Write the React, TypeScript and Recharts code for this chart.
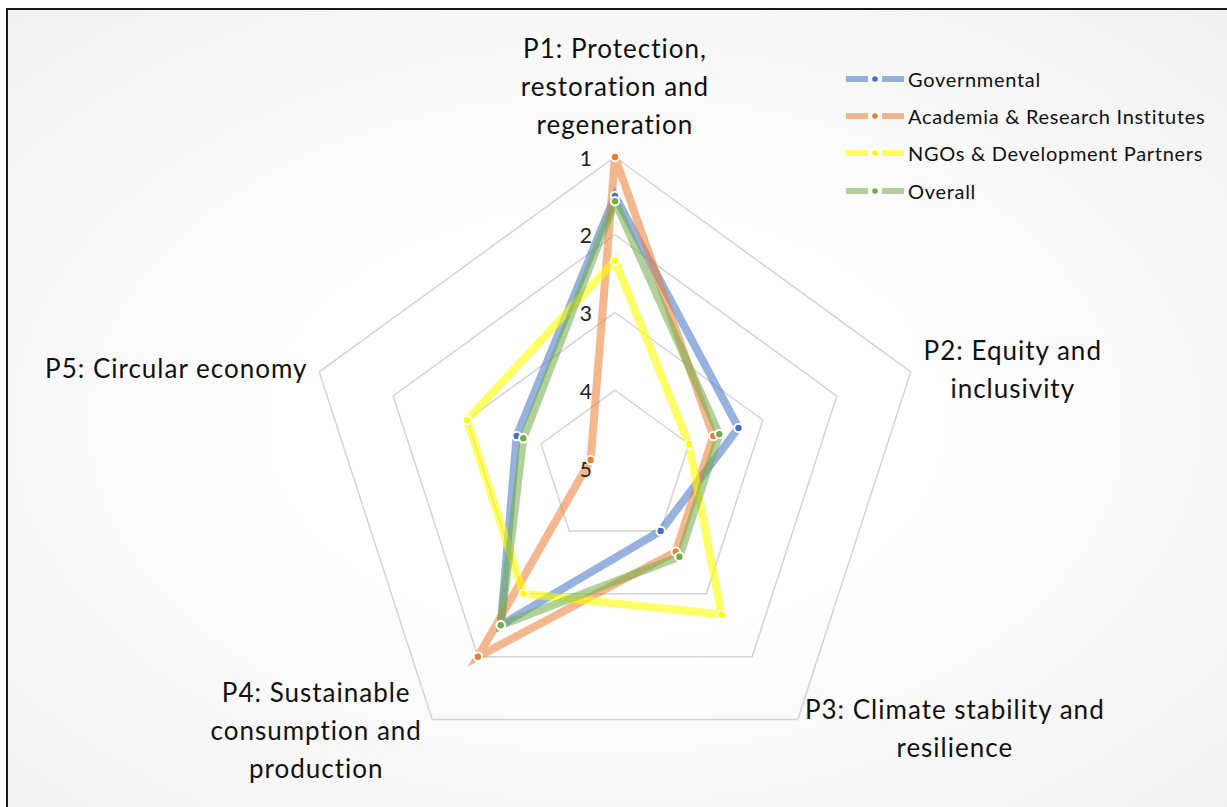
import React from 'react';
import { RadarChart, Radar, PolarGrid, PolarAngleAxis, PolarRadiusAxis, Legend } from 'recharts';

// ranks per pillar (1 = highest priority, drawn on the outer ring)
const categories = ['P1', 'P2', 'P3', 'P4', 'P5'];
const categoryLines = [
  ['P1: Protection,', 'restoration and', 'regeneration'],
  ['P2: Equity and', 'inclusivity'],
  ['P3: Climate stability and', 'resilience'],
  ['P4: Sustainable', 'consumption and', 'production'],
  ['P5: Circular economy'],
];
const governmental = [1.5, 3.33, 4.0, 2.5, 3.67];
const academia = [1.0, 3.67, 3.67, 2.0, 4.67];
const ngos = [2.33, 4.0, 2.67, 3.0, 3.0];
const overall = [1.57, 3.59, 3.59, 2.5, 3.76];
const rankTicks = [1, 2, 3, 4, 5];

const series = [
  { key: 'gov', name: 'Governmental', color: '#4472C4', opacity: 0.55, values: governmental },
  { key: 'acad', name: 'Academia & Research Institutes', color: '#ED7D31', opacity: 0.55, values: academia },
  { key: 'ngo', name: 'NGOs & Development Partners', color: '#FFFF00', opacity: 0.6, values: ngos },
  { key: 'all', name: 'Overall', color: '#70AD47', opacity: 0.55, values: overall },
];

const data = categories.map((c, i) => {
  const row: Record<string, string | number> = { cat: c };
  series.forEach(s => { row[s.key] = s.values[i]; });
  return row;
});

const W = 1227;
const H = 807;
const CX = 615;
const CY = 468;
const R = 311;
const FONT = 'Lato, "Open Sans", sans-serif';
const LINE_H = 38;
// where each label block sits relative to its outer vertex
const labelShift = [[0, -71], [102, -3], [157, 8], [-116, 10], [-143, -4]];

const AngleTick = (props: any) => {
  const { payload } = props;
  const i = categories.indexOf(payload.value);
  const a = (payload.coordinate * Math.PI) / 180;
  const vx = CX + R * Math.cos(-a);
  const vy = CY + R * Math.sin(-a);
  const lines = categoryLines[i];
  const mx = vx + labelShift[i][0];
  const my = vy + labelShift[i][1];
  const top = my - ((lines.length - 1) * LINE_H) / 2;
  return (
    <g>
      {lines.map((t, k) => (
        <text key={k} x={mx} y={top + k * LINE_H} textAnchor="middle" dominantBaseline="central"
          fontFamily={FONT} fontSize={26} letterSpacing={1} fill="#111">{t}</text>
      ))}
    </g>
  );
};

const RadiusTick = (props: any) => (
  <text x={props.x - 23} y={props.y} textAnchor="end" dominantBaseline="central"
    fontFamily={FONT} fontSize={21} fill="#222">{props.payload.value}</text>
);

const makeDot = (color: string) => (p: any) => (
  <circle key={`${color}-${p.index}`} cx={p.cx} cy={p.cy} r={4.2} fill={color} stroke="#fff" strokeWidth={2} />
);

const LegendBox = () => (
  <div style={{ fontFamily: FONT, fontSize: 20, letterSpacing: 0.7, color: '#111' }}>
    {series.map(s => (
      <div key={s.key} style={{ height: 37.3, display: 'flex', alignItems: 'center' }}>
        <svg width={60} height={14} style={{ marginRight: 2 }}>
          <line x1={0} y1={7} x2={22} y2={7} stroke={s.color} strokeOpacity={s.opacity} strokeWidth={6} />
          <line x1={36} y1={7} x2={58} y2={7} stroke={s.color} strokeOpacity={s.opacity} strokeWidth={6} />
          <circle cx={29} cy={7} r={3.6} fill={s.color} stroke="#fff" strokeWidth={1.6} />
        </svg>
        <span>{s.name}</span>
      </div>
    ))}
  </div>
);

export default function App() {
  return (
    <div style={{ position: 'absolute', left: 0, top: 0, width: W, height: H, overflow: 'hidden', background: '#fff' }}>
      <div style={{
        position: 'absolute', left: 6, top: 8, width: W + 20, height: H + 20, border: '2px solid #1a1a1a',
        background: 'radial-gradient(ellipse at 48% 50%, #ffffff 35%, #f6f6f6 75%, #f0f0f0 100%)',
      }} />
      <div style={{ position: 'absolute', left: 0, top: 0 }}>
        <RadarChart width={W} height={H} data={data} cx={CX} cy={CY} outerRadius={R}
          margin={{ top: 0, right: 0, bottom: 0, left: 0 }}>
          <PolarGrid gridType="polygon" radialLines={false} stroke="#d4d4d4" strokeWidth={1.5} />
          <PolarAngleAxis dataKey="cat" axisLine={false} tickLine={false} tick={AngleTick} />
          <PolarRadiusAxis angle={90} type="number" domain={[1, 5]} reversed ticks={rankTicks}
            tickCount={5} axisLine={false} tickLine={false} tick={RadiusTick} />
          {series.map(s => (
            <Radar key={s.key} name={s.name} dataKey={s.key} stroke={s.color} strokeOpacity={s.opacity}
              strokeWidth={8} fill="none" fillOpacity={0} dot={makeDot(s.color)} isAnimationActive={false} />
          ))}
          <Legend content={LegendBox} wrapperStyle={{ top: 60, left: 846, width: 375 }} />
        </RadarChart>
      </div>
    </div>
  );
}
